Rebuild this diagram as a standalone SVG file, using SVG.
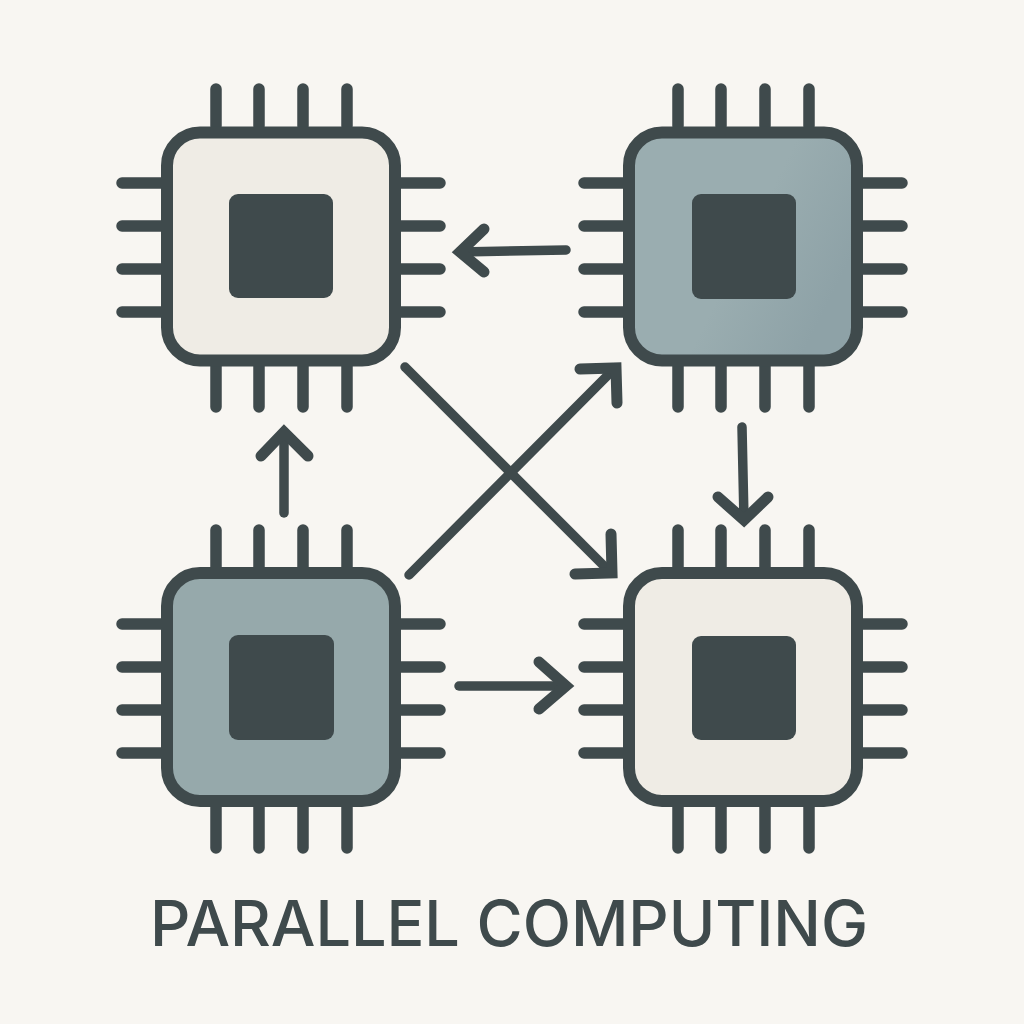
<svg xmlns="http://www.w3.org/2000/svg" width="1024" height="1024" viewBox="0 0 1024 1024">
<defs>
<linearGradient id="g1" x1="0" y1="0" x2="1" y2="0.5"><stop offset="0" stop-color="#9aadb0"/><stop offset="0.6" stop-color="#9aadb0"/><stop offset="1" stop-color="#8ea2a7"/></linearGradient>
<style>
.pin{stroke:#3f4a4c;stroke-width:11.500;stroke-linecap:round;fill:none}
.body{stroke:#3f4a4c;stroke-width:12}
.core{fill:#3f4a4c}
.light{fill:#efece5}
.sage{fill:#96a9ab}
.conn{stroke:#3f4a4c;stroke-width:9.500;stroke-linecap:round;stroke-linejoin:round;fill:none}
.head{stroke-width:11;stroke-linejoin:miter}
text{font-family:"Inter","Open Sans",sans-serif;font-size:63px;font-weight:500;fill:#3f4a4c}
</style>
<g id="chip">
<path class="pin" d="M216 89V126M259 89V126M303 89V126M347 89V126M216 366V407M259 366V407M303 366V407M347 366V407M122 183H162M122 226H162M122 269H162M122 312H162M400 183H440M400 226H440M400 269H440M400 312H440"/>
</g>
</defs>
<rect width="1024" height="1024" fill="#f8f6f2"/>
<g id="chip-top-left">
<use href="#chip"/>
<rect class="body light" x="167" y="132.500" width="228" height="228" rx="33"/>
<rect class="core" x="229" y="194" width="104" height="104" rx="9"/>
</g>
<g id="chip-top-right">
<use href="#chip" x="462"/>
<rect class="body" fill="url(#g1)" x="629" y="132.500" width="228" height="228" rx="33"/>
<rect class="core" x="692" y="194" width="104" height="105" rx="9"/>
</g>
<g id="chip-bottom-left">
<use href="#chip" y="441"/>
<rect class="body sage" x="167" y="573" width="228" height="228" rx="33"/>
<rect class="core" x="229" y="635" width="105" height="105" rx="9"/>
</g>
<g id="chip-bottom-right">
<use href="#chip" x="462" y="441"/>
<rect class="body light" x="629" y="573" width="228" height="228" rx="33"/>
<rect class="core" x="692" y="636" width="104" height="104" rx="9"/>
</g>
<g id="connectors">
<path class="conn" d="M566 250L460 252"/><path class="conn head" d="M484 229L460 252L484 272"/>
<path class="conn" d="M284 513V432"/><path class="conn head" d="M261 456L284 432L308 456"/>
<path class="conn" d="M742 427L744 520"/><path class="conn head" d="M718 497L744 520L768 497"/>
<path class="conn" d="M459 686H566"/><path class="conn head" d="M539 662L566 686L539 709"/>
<path class="conn" d="M409 575L614 369"/><path class="conn head" d="M580 369L616 368L617 403"/>
<path class="conn" d="M405 367L610 572"/><path class="conn head" d="M575 574L612 573L611 534"/>
</g>
<text x="509" y="945.500" text-anchor="middle" textLength="718" lengthAdjust="spacing">PARALLEL COMPUTING</text>
</svg>
